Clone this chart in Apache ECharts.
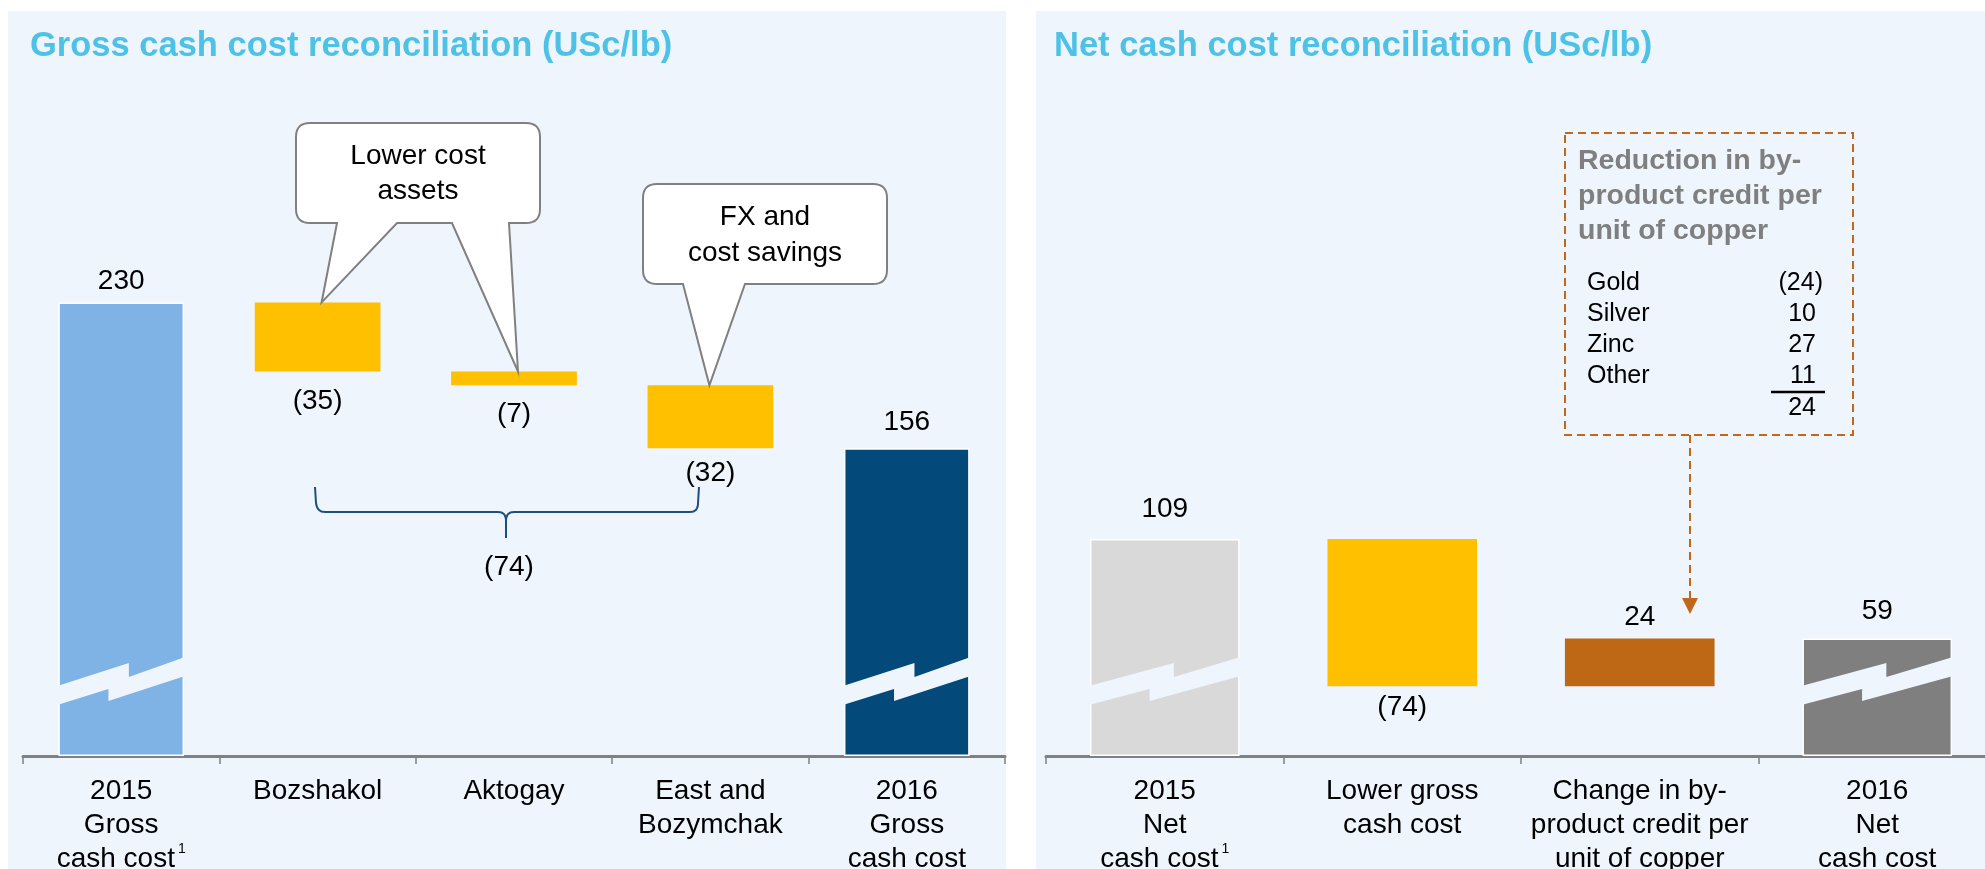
<!DOCTYPE html>
<html>
<head>
<meta charset="utf-8">
<title>Cash cost reconciliation</title>
<script src="https://cdn.jsdelivr.net/npm/echarts@6/dist/echarts.min.js"></script>
<style>
  html, body { margin: 0; padding: 0; background: #fff; }
  #chart { width: 1985px; height: 869px; }
</style>
</head>
<body>
<div id="chart"></div>
<script>
// data
var grossCategories = ['2015\nGross\ncash cost¹', 'Bozshakol', 'Aktogay', 'East and\nBozymchak', '2016\nGross\ncash cost'];
var grossValues = [230, -35, -7, -32, 156];
var grossIsTotal = [true, false, false, false, true];

var netCategories = ['2015\nNet\ncash cost¹', 'Lower gross\ncash cost', 'Change in by-\nproduct credit per\nunit of copper', '2016\nNet\ncash cost'];
var netValues = [109, -74, 24, 59];
var netIsTotal = [true, false, false, true];

var byproductNames = ['Gold', 'Silver', 'Zinc', 'Other'];
var byproductValues = [-24, 10, 27, 11];

// colours
var grossColors = ['#7FB2E5', '#FFC000', '#FFC000', '#FFC000', '#03497A'];
var netColors = ['#D9D9D9', '#FFC000', '#BE6815', '#7F7F7F'];
var panelColor = '#EEF5FD';
var titleColor = '#4DC2E6';
var FONT = '"Liberation Sans", Arial, sans-serif';

// gap between bar and its value label (px), as on the slide
var grossLabelGap = [7.5, 16, 15, 11, 12.5];
var netLabelGap = [16, 7, 7, 13];

function fmt(v) {
    return v < 0 ? '(' + Math.abs(v) + ')' : String(v);
}

// base (invisible) + visible part of each waterfall step
function waterfall(values, isTotal) {
    var base = [], size = [], run = 0;
    for (var i = 0; i < values.length; i++) {
        if (isTotal[i]) {
            base.push(0);
            size.push(values[i]);
            run = values[i];
        } else {
            var next = run + values[i];
            base.push(Math.min(run, next));
            size.push(Math.abs(values[i]));
            run = next;
        }
    }
    return {base: base, size: size};
}

function barItems(values, isTotal, colors, sizes, gaps) {
    return sizes.map(function (s, i) {
        return {
            value: s,
            itemStyle: {
                color: colors[i],
                borderColor: isTotal[i] ? '#fff' : colors[i],
                borderWidth: isTotal[i] ? 1.5 : 0
            },
            label: {position: values[i] < 0 ? 'bottom' : 'top', distance: gaps[i]}
        };
    });
}

var gross = waterfall(grossValues, grossIsTotal);
var net = waterfall(netValues, netIsTotal);

var axisLabelStyle = {
    color: '#000',
    fontSize: 28,
    lineHeight: 34,
    fontFamily: FONT,
    margin: 18.5,
    interval: 0,
    formatter: function (v) { return v.replace('¹', '{sup|1}'); },
    rich: {
        sup: {fontSize: 14, lineHeight: 14, verticalAlign: 'top', color: '#000', fontFamily: FONT, padding: [0, 0, 0, 3]}
    }
};

function xAxisOf(grid, cats) {
    return {
        type: 'category',
        gridIndex: grid,
        data: cats,
        axisLine: {lineStyle: {color: '#808080', width: 3}},
        axisTick: {show: true, length: 8, lineStyle: {color: '#808080', width: 1.5}},
        axisLabel: axisLabelStyle
    };
}

var valueLabel = {
    show: true,
    color: '#000',
    fontSize: 28,
    fontFamily: FONT
};

var chart = echarts.init(document.getElementById('chart'));

var option = {
    animation: false,
    backgroundColor: '#fff',
    textStyle: {fontFamily: FONT},
    title: [
        {text: 'Gross cash cost reconciliation (USc/lb)', left: 30, top: 29, padding: 0,
            textStyle: {fontSize: 34.5, fontWeight: 'bold', color: titleColor, fontFamily: FONT}},
        {text: 'Net cash cost reconciliation (USc/lb)', left: 1054, top: 29, padding: 0,
            textStyle: {fontSize: 34.5, fontWeight: 'bold', color: titleColor, fontFamily: FONT}}
    ],
    grid: [
        {left: 23, top: 263, width: 982, height: 493, outerBoundsMode: 'none', containLabel: false},
        {left: 1046, top: 258.5, width: 950, height: 497.5, outerBoundsMode: 'none', containLabel: false}
    ],
    xAxis: [xAxisOf(0, grossCategories), xAxisOf(1, netCategories)],
    yAxis: [
        {type: 'value', gridIndex: 0, min: 0, max: 250, show: false, splitLine: {show: false}},
        {type: 'value', gridIndex: 1, min: 0, max: 250, show: false, splitLine: {show: false}}
    ],
    series: [
        {type: 'bar', xAxisIndex: 0, yAxisIndex: 0, stack: 'g', barWidth: '64%', silent: true,
            itemStyle: {color: 'transparent'}, data: gross.base},
        {type: 'bar', xAxisIndex: 0, yAxisIndex: 0, stack: 'g', barWidth: '64%',
            label: Object.assign({}, valueLabel, {formatter: function (p) { return fmt(grossValues[p.dataIndex]); }}),
            data: barItems(grossValues, grossIsTotal, grossColors, gross.size, grossLabelGap)},
        {type: 'bar', xAxisIndex: 1, yAxisIndex: 1, stack: 'n', barWidth: '63%', silent: true,
            itemStyle: {color: 'transparent'}, data: net.base},
        {type: 'bar', xAxisIndex: 1, yAxisIndex: 1, stack: 'n', barWidth: '63%',
            label: Object.assign({}, valueLabel, {formatter: function (p) { return fmt(netValues[p.dataIndex]); }}),
            data: barItems(netValues, netIsTotal, netColors, net.size, netLabelGap)}
    ]
};
chart.setOption(option);

// ---- annotations, placed after the scales exist ----
function px(grid, cat, val) {
    return chart.convertToPixel({gridIndex: grid}, [cat, val]);
}

// sampled quadratic curve (no start point)
function quad(p0, c, p1) {
    var pts = [];
    for (var i = 1; i <= 8; i++) {
        var t = i / 8, u = 1 - t;
        pts.push([u * u * p0[0] + 2 * u * t * c[0] + t * t * p1[0],
            u * u * p0[1] + 2 * u * t * c[1] + t * t * p1[1]]);
    }
    return pts;
}

// white "axis break" zigzag across a total bar
function breakMark(id, grid, cat, frac) {
    var c = px(grid, cat, 0);
    var band = px(grid, 1, 0)[0] - px(grid, 0, 0)[0];
    var xL = c[0] - band * frac / 2 - 1, xR = c[0] + band * frac / 2 + 1;
    var w = xR - xL, y0 = c[1];
    var a = xL + 0.56 * w, b = xL + 0.4 * w;
    return {
        type: 'polygon', id: id, z: 10, silent: true,
        shape: {points: [[xL, y0 - 70], [a, y0 - 93], [a, y0 - 79], [xR, y0 - 99],
            [xR, y0 - 80], [b, y0 - 55], [b, y0 - 67], [xL, y0 - 51]]},
        style: {fill: panelColor}
    };
}

// rounded callout box with one or more tails (tails given right to left)
function bubblePoints(x, y, w, h, r, tails) {
    var p = [[x + r, y], [x + w - r, y]];
    p = p.concat(quad([x + w - r, y], [x + w, y], [x + w, y + r]));
    p.push([x + w, y + h - r]);
    p = p.concat(quad([x + w, y + h - r], [x + w, y + h], [x + w - r, y + h]));
    tails.forEach(function (t) {
        p.push([t.right, y + h], [t.tip[0], t.tip[1]], [t.left, y + h]);
    });
    p.push([x + r, y + h]);
    p = p.concat(quad([x + r, y + h], [x, y + h], [x, y + h - r]));
    p.push([x, y + r]);
    p = p.concat(quad([x, y + r], [x, y], [x + r, y]));
    return p;
}

function bubble(id, x, y, w, h, tails) {
    return {
        type: 'polygon', id: id, z: 15, silent: true,
        shape: {points: bubblePoints(x, y, w, h, 14, tails)},
        style: {fill: '#fff', stroke: '#808080', lineWidth: 2}
    };
}

function deltaTop(grid, cat, wf) {
    return px(grid, cat, wf.base[cat] + wf.size[cat]);
}

var tipBoz = deltaTop(0, 1, gross), tipAkt = deltaTop(0, 2, gross), tipEast = deltaTop(0, 3, gross);
tipBoz[0] += 4; tipAkt[0] += 4; tipEast[0] -= 1;

var grossDeltaSum = grossValues.filter(function (v, i) { return !grossIsTotal[i]; })
    .reduce(function (s, v) { return s + v; }, 0);
var byproductTotal = byproductValues.reduce(function (s, v) { return s + v; }, 0);

// curly brace under the three asset steps
var bracePts = [[315, 487], [316, 503]]
    .concat(quad([316, 503], [317, 512], [325, 512]))
    .concat([[498, 512]])
    .concat(quad([498, 512], [506, 512], [506, 521]))
    .concat([[506, 538], [506, 521]])
    .concat(quad([506, 521], [506, 512], [514, 512]))
    .concat([[690, 512]])
    .concat(quad([690, 512], [698, 512], [698, 503]))
    .concat([[699, 487]]);

var txt = function (id, text, x, y, opts) {
    return {
        type: 'text', id: id, z: 20, silent: true,
        style: Object.assign({
            text: text, x: x, y: y, fill: '#000', fontSize: 28, fontFamily: FONT,
            textAlign: 'center', textVerticalAlign: 'middle'
        }, opts || {})
    };
};

var graphics = [
    {type: 'rect', id: 'panelL', z: -1, silent: true, shape: {x: 8, y: 11, width: 998, height: 858}, style: {fill: panelColor}},
    {type: 'rect', id: 'panelR', z: -1, silent: true, shape: {x: 1036, y: 11, width: 949, height: 858}, style: {fill: panelColor}},
    breakMark('brk0', 0, 0, 0.64),
    breakMark('brk1', 0, 4, 0.64),
    breakMark('brk2', 1, 0, 0.63),
    breakMark('brk3', 1, 3, 0.63),
    bubble('bub1', 296, 123, 244, 100, [
        {right: 509, left: 452, tip: tipAkt},
        {right: 397, left: 337, tip: tipBoz}]),
    txt('bub1t', 'Lower cost\nassets', 418, 174, {lineHeight: 35}),
    bubble('bub2', 643, 184, 244, 100, [
        {right: 745, left: 683, tip: tipEast}]),
    txt('bub2t', 'FX and\ncost savings', 765, 235, {lineHeight: 36}),
    {type: 'polyline', id: 'brace', z: 15, silent: true, shape: {points: bracePts},
        style: {fill: null, stroke: '#1C4F7F', lineWidth: 2}},
    txt('braceT', fmt(grossDeltaSum), 509, 567),
    // by-product credit box
    {type: 'rect', id: 'bpBox', z: 15, silent: true, shape: {x: 1565, y: 133, width: 288, height: 302},
        style: {fill: null, stroke: '#C0671A', lineWidth: 2, lineDash: [8, 5]}},
    {type: 'line', id: 'bpLink', z: 15, silent: true, shape: {x1: 1690, y1: 435, x2: 1690, y2: 599},
        style: {stroke: '#C0671A', lineWidth: 2, lineDash: [8, 5]}},
    {type: 'polygon', id: 'bpArrow', z: 15, silent: true, shape: {points: [[1682, 598], [1698, 598], [1690, 614]]},
        style: {fill: '#C0671A'}},
    txt('bpHead', 'Reduction in by-\nproduct credit per\nunit of copper', 1578, 144,
        {textAlign: 'left', textVerticalAlign: 'top', fontSize: 28.5, fontWeight: 'bold', fill: '#7F7F7F', lineHeight: 35}),
    {type: 'line', id: 'bpRule', z: 15, silent: true, shape: {x1: 1771, y1: 392, x2: 1825, y2: 392},
        style: {stroke: '#000', lineWidth: 2.5}},
    txt('bpTot', fmt(byproductTotal), 1816, 408, {textAlign: 'right', fontSize: 25})
];

byproductNames.forEach(function (name, i) {
    var y = 283 + i * 31;
    var v = byproductValues[i];
    graphics.push(txt('bpN' + i, name, 1587, y, {textAlign: 'left', fontSize: 25}));
    graphics.push(txt('bpV' + i, fmt(v), v < 0 ? 1823 : 1816, y, {textAlign: 'right', fontSize: 25}));
});

chart.setOption({graphic: graphics});
</script>
</body>
</html>
